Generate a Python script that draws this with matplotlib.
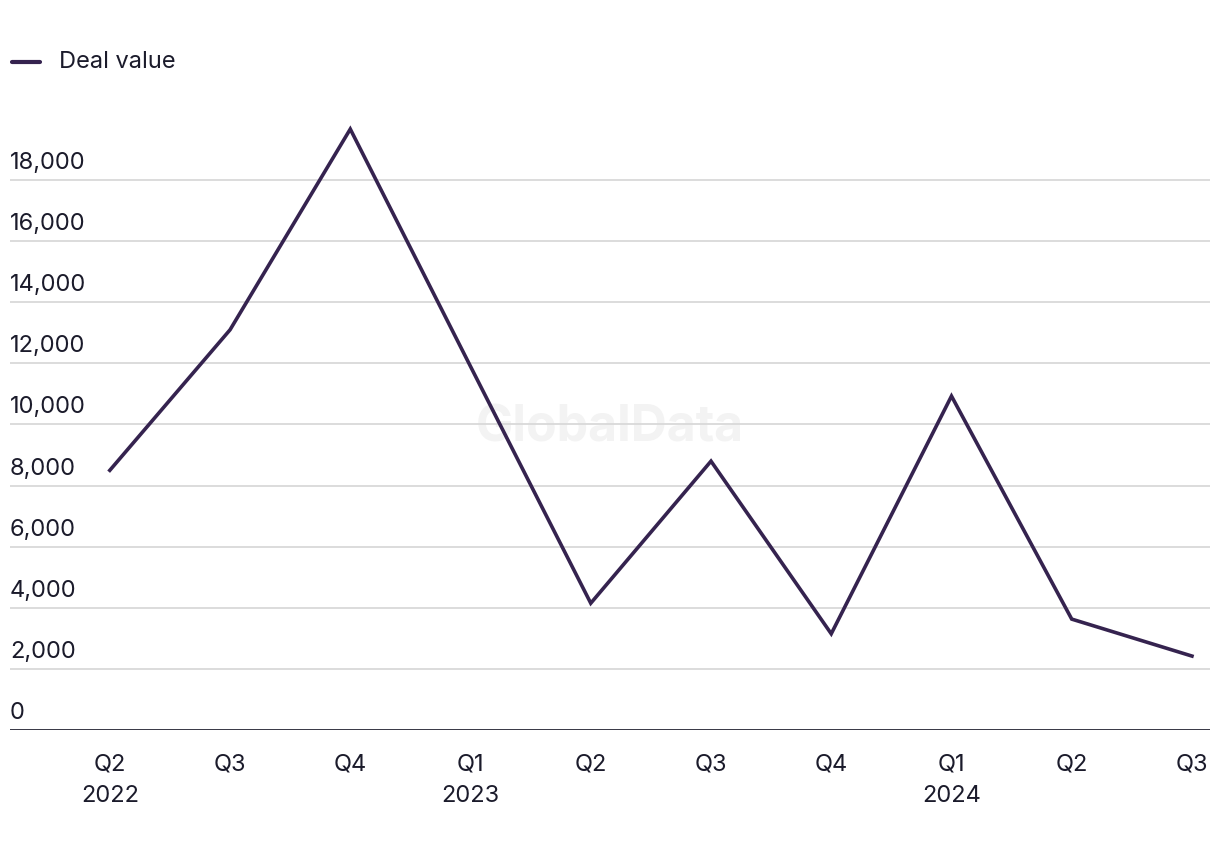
import matplotlib
matplotlib.use("Agg")
import matplotlib.pyplot as plt
from matplotlib.lines import Line2D

plt.rcParams['font.family'] = ['Inter', 'DejaVu Sans']

quarters = ["Q2\n2022", "Q3", "Q4", "Q1\n2023", "Q2", "Q3", "Q4", "Q1\n2024", "Q2", "Q3"]
deal_value = [8500, 13100, 19670, 11900, 4150, 8800, 3150, 10930, 3630, 2420]
y_ticks = [0, 2000, 4000, 6000, 8000, 10000, 12000, 14000, 16000, 18000]
series_name = "Deal value"

line_color = "#35234f"
text_color = "#1b1b2b"
grid_color = "#d9d9d9"

W, H = 1220, 850
fig = plt.figure(figsize=(W / 100, H / 100), dpi=100)
left, right, bottom, top = 10, 1210, 730, 119
ax = fig.add_axes([left / W, 1 - bottom / H, (right - left) / W, (bottom - top) / H])

x = list(range(len(quarters)))
ax.plot(x, deal_value, color=line_color, lw=2.6, solid_joinstyle='miter', clip_on=False, zorder=3)

ax.set_xlim(-0.83, 9.15)
ax.set_ylim(0, 20000)

for s in ax.spines.values():
    s.set_visible(False)
for v in y_ticks:
    if v == 0:
        ax.axhline(v, color='#111122', lw=1.9, zorder=4)
    else:
        ax.axhline(v, color=grid_color, lw=1.3, zorder=1)
    ax.annotate(f"{v:,}", xy=(0, v), xycoords=('axes fraction', 'data'),
                xytext=(0, 17), textcoords='offset pixels', ha='left', va='center',
                fontsize=17, color=text_color)

ax.set_yticks([])
ax.set_xticks(x)
ax.set_xticklabels(quarters, fontsize=17, color=text_color, linespacing=1.55, va='top')
ax.tick_params(axis='x', length=0, pad=17)

ax.text(0.5, 0.495, "GlobalData", transform=ax.transAxes, ha='center', va='center',
        fontsize=36, fontweight='bold', color='#f3f3f3', zorder=0)

# legend
fig.add_artist(Line2D([12 / W, 40 / W], [1 - 62 / H, 1 - 62 / H], color=line_color, lw=3,
                      solid_capstyle='round'))
fig.text(59 / W, 1 - 62 / H, series_name, ha='left', va='center', fontsize=17, color=text_color)

fig.savefig("out.png", dpi=100, facecolor='white')
